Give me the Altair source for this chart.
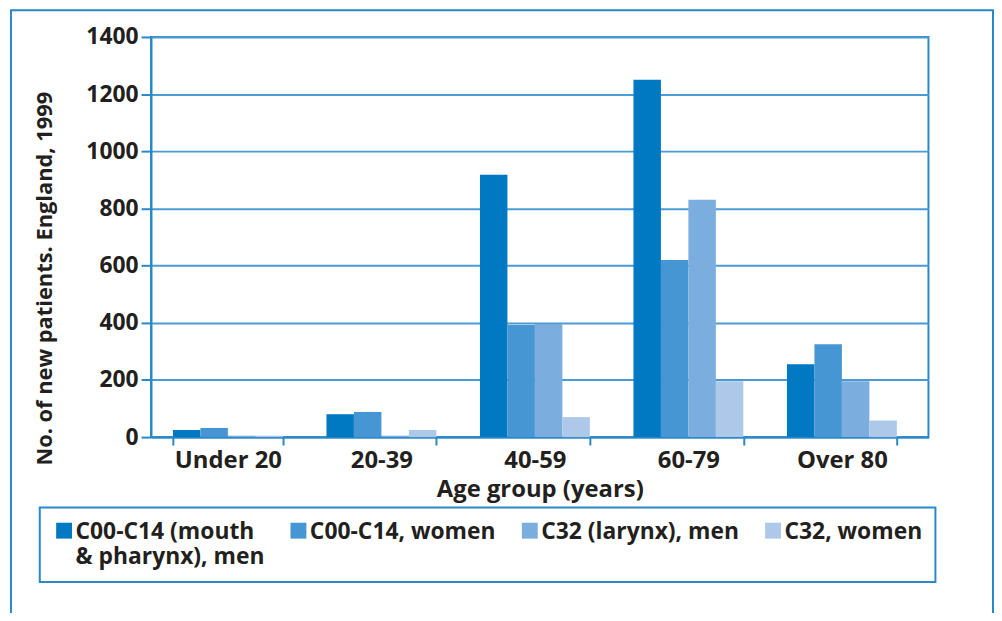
import altair as alt
import pandas as pd

age_groups = ["Under 20", "20-39", "40-59", "60-79", "Over 80"]
series = [
    "C00-C14 (mouth & pharynx), men",
    "C00-C14, women",
    "C32 (larynx), men",
    "C32, women",
]
mouth_men = [25, 80, 918, 1250, 255]
mouth_women = [32, 88, 392, 620, 325]
larynx_men = [5, 5, 396, 830, 195]
larynx_women = [5, 25, 70, 195, 58]
colors = ["#0079c2", "#4596d2", "#7badde", "#aec8e9"]
y_ticks = [0, 200, 400, 600, 800, 1000, 1200, 1400]

rows = []
for s, vals in zip(series, [mouth_men, mouth_women, larynx_men, larynx_women]):
    for a, v in zip(age_groups, vals):
        rows.append({"age": a, "series": s, "value": v})
df = pd.DataFrame(rows)

BLUE = "#2a88c8"
GRID = "#4a9bd4"
TEXT = "#231f20"
FONT = "Open Sans"

# every legend label is a two-line block so that first lines line up
label_expr = (
    "datum.label == 'C00-C14 (mouth & pharynx), men' ? "
    "['C00-C14 (mouth', '& pharynx), men'] : [datum.label, '']"
)
# square symbol raised to sit beside the first line of the label block
symbol_path = "M-1,-1.19H1V0.81H-1Z"

bars = alt.Chart(df).mark_bar().encode(
    x=alt.X(
        "age:N",
        sort=age_groups,
        scale=alt.Scale(paddingInner=0.284, paddingOuter=0.1745, align=0.41),
        axis=alt.Axis(
            title="Age group (years)",
            labelAngle=0,
            tickBand="extent",
            tickSize=8,
            tickWidth=2,
            tickColor=BLUE,
            domainColor=BLUE,
            domainWidth=2,
            labelPadding=4,
            labelFont=FONT,
            labelFontSize=24,
            labelFontWeight="bold",
            labelColor=TEXT,
            titleFont=FONT,
            titleFontSize=24,
            titleFontWeight="bold",
            titleColor=TEXT,
            titleBaseline="middle",
            titleY=53,
        ),
    ),
    xOffset=alt.XOffset(
        "series:N", sort=series, scale=alt.Scale(paddingInner=0, paddingOuter=0)
    ),
    y=alt.Y(
        "value:Q",
        scale=alt.Scale(domain=[0, 1400], nice=False),
        axis=alt.Axis(
            title="No. of new patients. England, 1999",
            values=y_ticks,
            format="d",
            grid=True,
            gridColor=GRID,
            gridWidth=2,
            tickSize=10,
            tickWidth=2,
            tickColor=BLUE,
            domainColor=BLUE,
            domainWidth=2,
            labelPadding=3,
            labelFont=FONT,
            labelFontSize=23,
            labelFontWeight="bold",
            labelColor=TEXT,
            titleFont=FONT,
            titleFontSize=22,
            titleFontWeight="bold",
            titleColor=TEXT,
            titleAngle=-90,
            titleAlign="center",
            titleBaseline="bottom",
            titleX=-95,
            titleY=243,
        ),
    ),
    color=alt.Color(
        "series:N",
        sort=series,
        scale=alt.Scale(domain=series, range=colors),
        legend=alt.Legend(
            title=None,
            orient="none",
            legendX=-112,
            legendY=474,
            direction="horizontal",
            columns=4,
            columnPadding=22,
            symbolType=symbol_path,
            symbolSize=256,
            symbolStrokeWidth=0,
            symbolOpacity=1,
            labelFont=FONT,
            labelFontSize=23,
            labelFontWeight="bold",
            labelColor=TEXT,
            labelExpr=label_expr,
            labelLimit=400,
            labelOffset=0,
            strokeColor=BLUE,
            padding=13,
        ),
    ),
)

frame = alt.Chart(pd.DataFrame({"frame": [0]})).mark_rect(
    fill=None, stroke=BLUE, strokeWidth=2
).encode(
    x=alt.value(-141), x2=alt.value(848), y=alt.value(-27), y2=alt.value(700)
)

chart = (
    alt.layer(bars, frame)
    .properties(
        width=783,
        height=403,
        padding={"left": 144, "top": 27, "right": 66, "bottom": 175},
        autosize=alt.AutoSizeParams(type="none"),
    )
    .configure_view(stroke=BLUE, strokeWidth=2)
    .configure_legend(strokeWidth=2)
)

chart.save("out.html", embed_options={"renderer": "svg", "actions": False})
